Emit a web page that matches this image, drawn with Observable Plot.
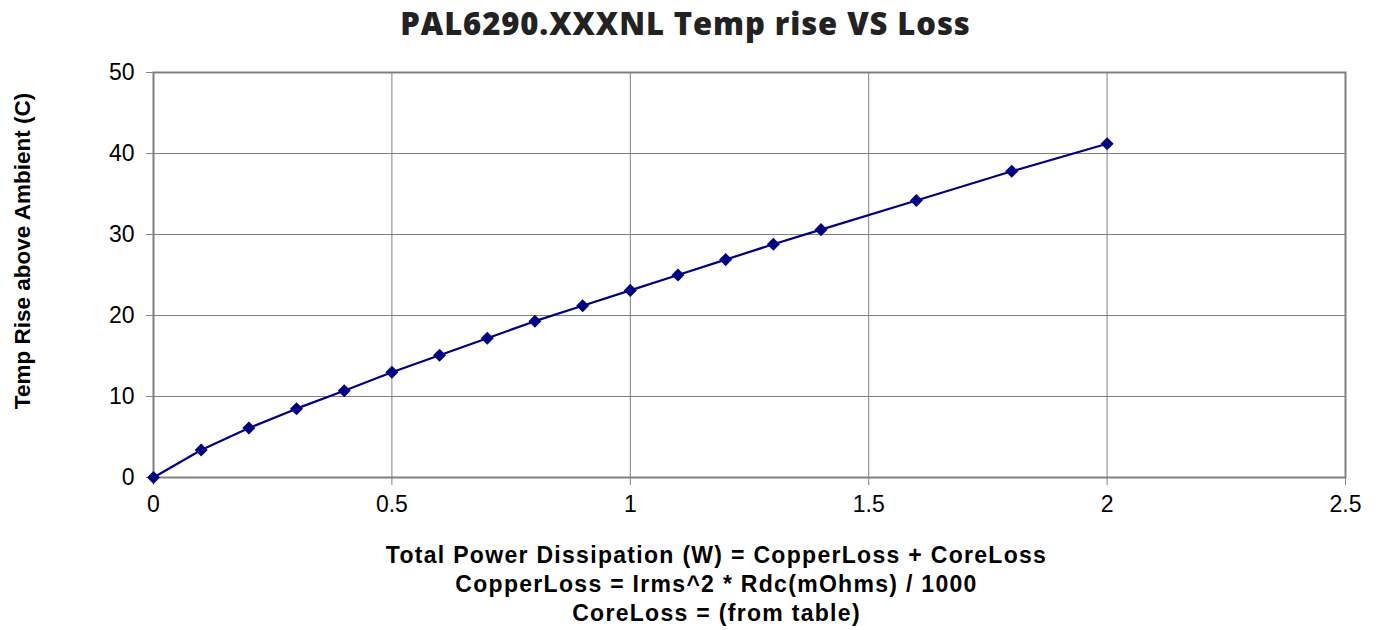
<!DOCTYPE html>
<html>
<head>
<meta charset="utf-8">
<script src="https://cdn.jsdelivr.net/npm/d3@7"></script>
<script src="https://cdn.jsdelivr.net/npm/@observablehq/plot@0.6"></script>
<style>
  html, body { margin: 0; padding: 0; background: #fff; }
  #wrap { width: 1379px; }
  #title { height: 48px; line-height: 46px; text-align: center; font-family: "Open Sans", sans-serif; font-weight: 800; font-size: 31px; color: #222; letter-spacing: 0.9px; padding-right: 8px; box-sizing: border-box; }
  #caption { text-align: center; font-family: "Liberation Sans", Arial, sans-serif; font-weight: 700; font-size: 23px; letter-spacing: 1.3px; line-height: 29px; color: #000; padding-left: 54px; padding-top: 11px; }
  svg { display: block; }
</style>
</head>
<body>
<div id="wrap">
  <div id="title">PAL6290.XXXNL Temp rise VS Loss</div>
  <div id="chart"></div>
  <div id="caption"></div>
</div>
<script>
const powerW = [0, 0.1, 0.2, 0.3, 0.4, 0.5, 0.6, 0.7, 0.8, 0.9, 1.0, 1.1, 1.2, 1.3, 1.4, 1.6, 1.8, 2.0];
const tempRiseC = [0, 3.4, 6.1, 8.5, 10.7, 13.0, 15.1, 17.2, 19.3, 21.2, 23.1, 25.0, 26.9, 28.8, 30.6, 34.2, 37.8, 41.2];
const xTicks = [0, 0.5, 1, 1.5, 2, 2.5];
const yTicks = [0, 10, 20, 30, 40, 50];
const yLabel = "Temp Rise above Ambient (C)";
const captionLines = [
  "Total Power Dissipation (W) = CopperLoss + CoreLoss",
  "CopperLoss = Irms^2 * Rdc(mOhms) / 1000",
  "CoreLoss = (from table)"
];

const data = powerW.map((x, i) => ({x, y: tempRiseC[i]}));

const chart = Plot.plot({
  width: 1379,
  height: 482,
  marginTop: 24,
  marginBottom: 53,
  marginLeft: 153,
  marginRight: 34,
  style: { fontFamily: "'Liberation Sans', Arial, sans-serif", fontSize: "23px", color: "#000", background: "#fff" },
  x: { domain: [0, 2.5], ticks: xTicks },
  y: { domain: [0, 50], ticks: yTicks },
  marks: [
    Plot.gridX(xTicks, { stroke: "#808080", strokeOpacity: 1, strokeWidth: 1 }),
    Plot.gridY(yTicks, { stroke: "#808080", strokeOpacity: 1, strokeWidth: 1 }),
    Plot.frame({ stroke: "#808080", strokeWidth: 2 }),
    Plot.axisX(xTicks, { tickSize: 8, tickPadding: 10, stroke: "#808080", label: null, tickFormat: d => String(d) }),
    Plot.axisY(yTicks, { tickSize: 7, tickPadding: 12, stroke: "#808080", label: null, tickFormat: d => String(d) }),
    Plot.text([yLabel], { text: d => d, frameAnchor: "left", textAnchor: "middle", lineAnchor: "middle", rotate: -90, dx: -131, dy: -24, fontSize: 22.5, fontWeight: 700, fill: "#000" }),
    Plot.line(data, { x: "x", y: "y", stroke: "#000080", strokeWidth: 2.2 }),
    Plot.dot(data, { x: "x", y: "y", symbol: "square", rotate: 45, r: 5.2, fill: "#000080", stroke: "none" })
  ]
});
document.getElementById("chart").appendChild(chart);
const cap = document.getElementById("caption");
captionLines.forEach(t => { const d = document.createElement("div"); d.textContent = t; cap.appendChild(d); });
</script>
</body>
</html>
